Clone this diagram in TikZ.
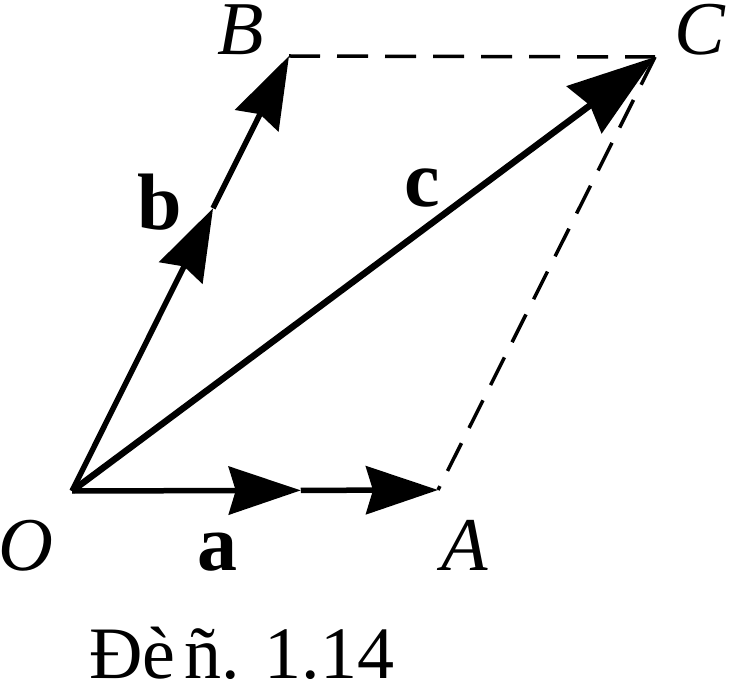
\documentclass[tikz,border=0pt]{standalone}
\usepackage{fontspec}
\setmainfont{Liberation Serif}
\usetikzlibrary{arrows.meta,calc}
\begin{document}
\begin{tikzpicture}[x=1pt,y=-1pt,
  vec/.style={line width=5.5pt},
  vecc/.style={line width=6.5pt},
  hd/.style={-{Stealth[length=72pt,width=48pt,inset=7pt]}},
  hdc/.style={-{Stealth[length=88pt,width=58pt,inset=7pt]}},
  dsh/.style={line width=3.5pt, dash pattern=on 31pt off 17pt},
  ptlab/.style={font=\fontsize{76}{90}\selectfont\itshape, anchor=base, inner sep=0pt},
  veclab/.style={font=\fontsize{80}{96}\selectfont\bfseries, anchor=base, inner sep=0pt}]
\useasboundingbox (0,0) rectangle (731,684);
\coordinate (O) at (72,491);
\coordinate (A) at (438,490);
\coordinate (B) at (289,56);
\coordinate (C) at (655,57);
\coordinate (aM) at ($(O)!0.625!(A)$);
\coordinate (bM) at ($(O)!0.65!(B)$);
% dashed sides
\draw[dsh] (B) -- (C);
\draw[dsh] (C) -- (A);
% vectors
\draw[vec,hd] (O) -- (aM);
\draw[vec,hd] (aM) -- (A);
\draw[vec,hd] (O) -- (bM);
\draw[vec,hd] (bM) -- (B);
\draw[vecc,hdc] (O) -- (C);
% labels
\node[ptlab] (lO) at (26,570) {O};
\node[ptlab] (lA) at (465,570) {A};
\node[ptlab] (lB) at (241,55) {B};
\node[ptlab] (lC) at (700,55) {C};
\node[veclab] (la) at (217,570) {a};
\node[veclab] (lb) at (160,230) {b};
\node[veclab] (lc) at (422,207) {c};
\node[anchor=base west, inner sep=0pt, font=\fontsize{74}{88}\selectfont] (cap) at (89,678) {Đè\hspace{0.12em}ñ. 1.14};
\end{tikzpicture}
\end{document}
